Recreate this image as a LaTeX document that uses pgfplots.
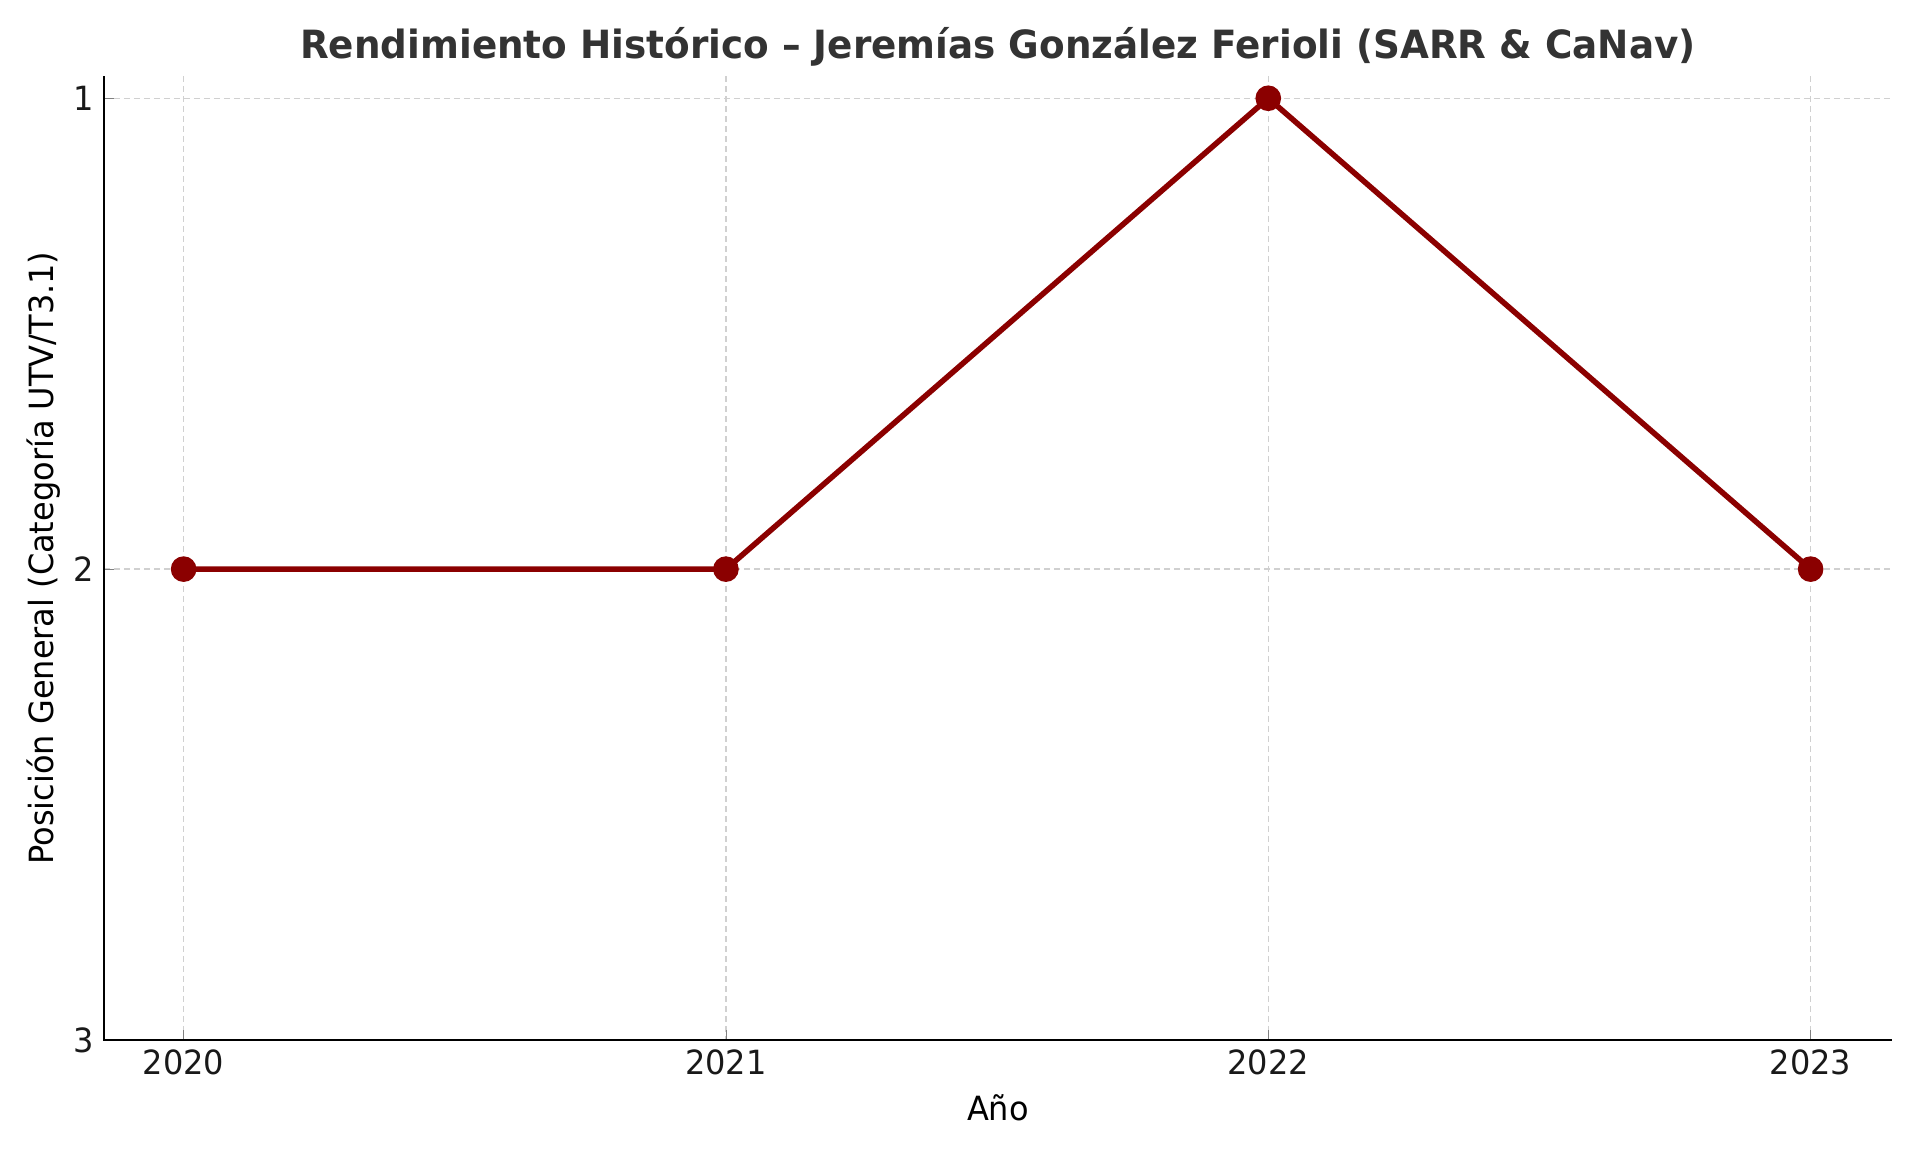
\documentclass[border=0pt]{standalone}
\usepackage{fontspec}
\setmainfont{DejaVu Sans}[FakeStretch=0.96]
\usepackage{pgfplots}
\pgfplotsset{compat=1.18}
\definecolor{linered}{HTML}{8B0000}
\definecolor{titlegray}{HTML}{333333}
\definecolor{gridgray}{HTML}{D0D0D0}
\begin{document}
\begin{tikzpicture}
\begin{axis}[
  scale only axis,
  width=643.7pt, height=347pt,
  xmin=2019.853, xmax=2023.15,
  ymin=0.953, ymax=3,
  y dir=reverse,
  xtick={2020,2021,2022,2023},
  ytick={1,2,3},
  /pgf/number format/1000 sep={},
  /pgf/number format/assume math mode=true,
  tick label style={font=\fontsize{12}{14}\selectfont, text=black!90},
  tick align=inside,
  major tick length=3.5pt,
  xtick pos=lower, ytick pos=left,
  axis line style={draw=none},
  grid=major,
  major grid style={gridgray, line width=0.5pt, dash pattern=on 2.2pt off 1.4pt},
  xlabel={Año},
  ylabel={Posición General (Categoría UTV/T3.1)},
  label style={font=\fontsize{12}{14}\selectfont},
  ylabel style={xshift=0pt, yshift=-2.2pt},
  title={Rendimiento Histórico – Jeremías González Ferioli (SARR \& CaNav)},
  title style={font=\bfseries\fontsize{14}{16}\selectfont, text=titlegray, yshift=-6pt},
  clip=false,
]
\addplot[linered, line width=2pt, mark=*, mark size=3.6pt, mark options={fill=linered, draw=linered}]
  coordinates {(2020,2) (2021,2) (2022,1) (2023,2)};
\end{axis}
\draw[black, line width=0.9pt] (current axis.north west) -- (current axis.south west) -- (current axis.south east);
\pgfresetboundingbox
\path[use as bounding box] ([shift={(-37.4pt,-40.3pt)}]current axis.south west) rectangle ([shift={(10.1pt,27.4pt)}]current axis.north east);
\end{tikzpicture}
\end{document}
